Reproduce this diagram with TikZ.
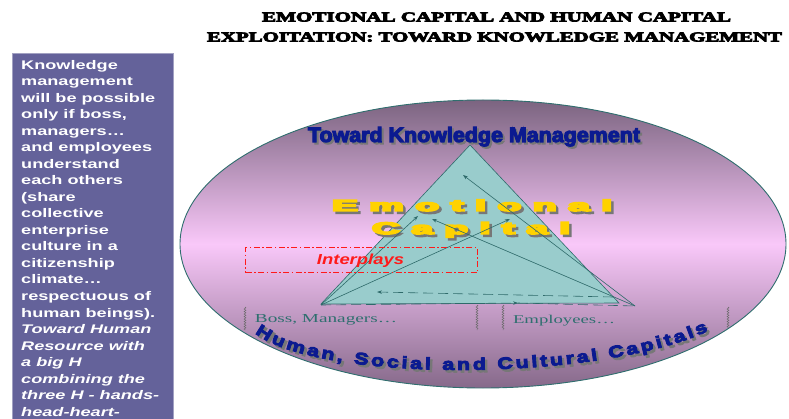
\documentclass[tikz,border=0pt]{standalone}
\usepackage{fontspec}
\usepackage{graphicx}
\setmainfont{Liberation Serif}
\newfontfamily\sansf{Liberation Sans}
\newfontfamily\redfont{Liberation Sans}
\newfontfamily\panelfont[FakeStretch=1.45]{Liberation Sans}
\newfontfamily\heavyfont[FakeStretch=1.3]{Liberation Sans}
\newfontfamily\titlefont{Liberation Serif}
\newfontfamily\blkfont{Liberation Sans}
\newcommand\lsp{\hspace{0.3em}}
\newcommand\strk[1]{\special{pdf:code #1 w 2 Tr}}
\usetikzlibrary{arrows.meta,decorations.text,decorations.pathmorphing,shapes.geometric}
\definecolor{panelc}{HTML}{64629A}
\definecolor{ellTop}{HTML}{7B6480}
\definecolor{ellMid}{HTML}{F9C8F9}
\definecolor{ellBot}{HTML}{86698A}
\definecolor{ellLine}{HTML}{2F6E6E}
\definecolor{triFill}{HTML}{99CCCC}
\definecolor{arrc}{HTML}{2E6A6A}
\definecolor{tblue}{HTML}{0B1A90}
\definecolor{shad}{HTML}{777777}
\definecolor{yel}{HTML}{FFD200}
\definecolor{redc}{HTML}{FF1A1A}
\definecolor{tealtxt}{HTML}{2F6F6F}
\definecolor{wavyc}{HTML}{6A6A6A}
\tikzset{
  paneltext/.style={text=white, inner sep=0pt, anchor=base west,
    font=\panelfont\bfseries\fontsize{12.5}{15}\selectfont},
  plain/.style={inner sep=0pt, anchor=base},
  arr/.style={draw=arrc, line width=0.6pt, -{Stealth[length=5pt,width=3.5pt]}},
  dasharr/.style={arr, dash pattern=on 10pt off 5pt},
  dashline/.style={draw=arrc, line width=0.6pt, dash pattern=on 10pt off 5pt},
  wavy/.style={draw=wavyc, line width=0.5pt, decorate,
    decoration={snake, segment length=2.5pt, amplitude=0.9pt}},
  ibox/.style={draw=redc, line width=1.1pt,
    dash pattern=on 6pt off 2.5pt on 1.5pt off 2.5pt},
}
\begin{document}
\begin{tikzpicture}[x=1pt,y=-1pt]
\useasboundingbox (0,0) rectangle (789,419);
% title
\node[plain] (t1) at (496.5,21.5) {\resizebox{469pt}{9pt}{\strk{0.5}\titlefont\bfseries EMOTIONAL CAPITAL AND HUMAN CAPITAL}};
\node[plain] (t2) at (494.5,41.5) {\resizebox{575pt}{9pt}{\strk{0.5}\titlefont\bfseries EXPLOITATION:\ TOWARD KNOWLEDGE MANAGEMENT}};
% left panel
\node[fill=panelc, draw=panelc!60!white, line width=0.6pt, minimum width=161pt, minimum height=380pt,
  anchor=north west, inner sep=0pt] (panel) at (12,53) {};
\foreach \t [count=\i] in {Knowledge, management, will be possible, {only if boss,}, managers…,
  and employees, understand, each others, {(share}, collective, enterprise, culture in a,
  citizenship, climate…, respectuous of, {human beings).},
  {\itshape Toward Human}, {\itshape Resource with}, {\itshape a big H},
  {\itshape combining the}, {\itshape three H - hands-}, {\itshape head-heart-}}
  \node[paneltext] (p\i) at (21,{69.5+16.5*(\i-1)}) {\t};
% ellipse
\node[ellipse, draw=ellLine, line width=0.9pt, top color=ellTop, bottom color=ellBot,
  middle color=ellMid, minimum width=606pt, minimum height=288pt, inner sep=0pt] (ell) at (483,244) {};
% Toward Knowledge Management
\node[plain, text=shad] (tkms) at (476,144) {\resizebox{332pt}{15pt}{\strk{0.5}\sansf\bfseries Toward Knowledge Management}};
\node[plain, text=tblue] (tkm) at (474,142) {\resizebox{332pt}{15pt}{\strk{0.5}\sansf\bfseries Toward Knowledge Management}};
% triangle
\coordinate (A) at (470,145);
\coordinate (BL) at (321,304);
\coordinate (BR) at (619,303);
\draw[draw=arrc, line width=0.6pt, fill=triFill] (A) -- (BL) -- (BR) -- cycle;
% Emotional Capital
\node[plain, text=shad] (ems) at (474.5,213.5) {\resizebox{280pt}{11.5pt}{\strk{0.9}\blkfont\bfseries E\lsp m\lsp o\lsp t\lsp i\lsp o\lsp n\lsp a\lsp l}};
\node[plain, text=yel] (em) at (472,211) {\resizebox{280pt}{11.5pt}{\strk{0.9}\blkfont\bfseries E\lsp m\lsp o\lsp t\lsp i\lsp o\lsp n\lsp a\lsp l}};
\node[plain, text=shad] (cas) at (473.5,236.5) {\resizebox{198pt}{12pt}{\strk{0.9}\blkfont\bfseries C\lsp a\lsp p\lsp i\lsp t\lsp a\lsp l}};
\node[plain, text=yel] (ca) at (471,234) {\resizebox{198pt}{12pt}{\strk{0.9}\blkfont\bfseries C\lsp a\lsp p\lsp i\lsp t\lsp a\lsp l}};
% arrows
\coordinate (L) at (321,305);
\coordinate (R) at (635,306);
\coordinate (e1) at (418,216);
\coordinate (e2) at (510,219);
\coordinate (e3) at (463,175);
\coordinate (e4) at (432,219);
\coordinate (d1) at (613,297);
\coordinate (d2) at (377,292);
\coordinate (mid) at (518,303);
\draw[arr] (L) -- (e1);
\draw[arr] (L) -- (e2);
\draw[arr] (R) -- (e3);
\draw[arr] (R) -- (e4);
\draw[dasharr] (d1) -- (d2);
\draw[dasharr] (L) -- (mid);
\draw[dashline] (mid) -- (R);
% Interplays
\node[ibox, minimum width=232pt, minimum height=25pt, inner sep=0pt, anchor=north west] (ibx) at (245,247) {};
\node[plain, text=redc] (ip) at (360.5,265) {\resizebox{87pt}{10.5pt}{\redfont\bfseries\itshape Interplays}};
% Boss / Employees
\node[plain, text=tealtxt] (boss) at (326,323) {\resizebox{142pt}{8pt}{Boss, Managers…}};
\node[plain, text=tealtxt] (emp) at (564,323) {\resizebox{102pt}{8.3pt}{Employees…}};
\draw[wavy] (245,307) -- (245,330);
\draw[wavy] (477,305) -- (477,330);
\draw[wavy] (503,305) -- (503,330);
\draw[wavy] (728,307) -- (728,328);
% curved text
\coordinate (hs) at (255,333);
\coordinate (hc1) at (317,382.5);
\coordinate (hc2) at (597,382.5);
\coordinate (he) at (708,331);
\path[decorate, decoration={text along path,
  text={|\heavyfont\bfseries\fontsize{16.5}{16.5}\selectfont\color{shad}\strk{0.9}|Human, Social and Cultural Capitals},
  text align={fit to path}}] ([shift={(2.5,2.5)}]hs) .. controls ([shift={(2.5,2.5)}]hc1) and ([shift={(2.5,2.5)}]hc2) .. ([shift={(2.5,2.5)}]he);
\path[decorate, decoration={text along path,
  text={|\heavyfont\bfseries\fontsize{16.5}{16.5}\selectfont\color{tblue}\strk{0.9}|Human, Social and Cultural Capitals},
  text align={fit to path}}] (hs) .. controls (hc1) and (hc2) .. (he);
\end{tikzpicture}
\end{document}
